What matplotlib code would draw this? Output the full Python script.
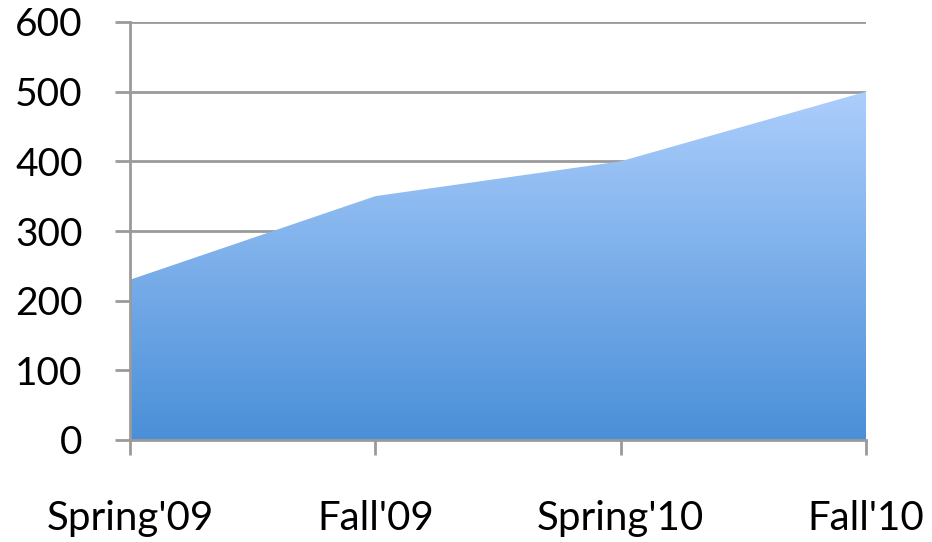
import matplotlib
matplotlib.use("Agg")
import matplotlib.pyplot as plt
import numpy as np
from matplotlib.colors import LinearSegmentedColormap

categories = ["Spring'09", "Fall'09", "Spring'10", "Fall'10"]
values = [230, 350, 400, 500]
y_ticks = [0, 100, 200, 300, 400, 500, 600]

plt.rcParams["font.family"] = ["Lato", "DejaVu Sans"]

fig = plt.figure(figsize=(9.32, 5.42), dpi=100)
ax = fig.add_axes([130 / 932, 1 - 440 / 542, 736 / 932, 418 / 542])

x = np.arange(len(categories))
grid_c = "#9a9a9a"

# area with vertical gradient, clipped to the filled polygon
poly = ax.fill_between(x, 0, values, color="none", lw=0)
cmap = LinearSegmentedColormap.from_list("blu", ["#4a8fd8", "#acceFC"])
grad = np.linspace(0, 1, 256).reshape(-1, 1)
img = ax.imshow(grad, cmap=cmap, aspect="auto", origin="lower",
                extent=[x[0], x[-1], 0, max(values)], zorder=1)
img.set_clip_path(poly.get_paths()[0], transform=ax.transData)

ax.set_xlim(x[0], x[-1])
ax.set_ylim(0, 600)
ax.set_yticks(y_ticks)
ax.set_xticks(x)
ax.set_xticklabels(categories)
ax.yaxis.grid(True, color=grid_c, lw=2, zorder=0)
ax.set_axisbelow(True)

for s in ["top", "right"]:
    ax.spines[s].set_visible(False)
for s in ["left", "bottom"]:
    ax.spines[s].set_color(grid_c)
    ax.spines[s].set_linewidth(2)
    ax.spines[s].set_zorder(3)

ax.tick_params(axis="y", length=11, width=2, color=grid_c, pad=23, labelsize=28)
ax.tick_params(axis="x", length=11, width=2, color=grid_c, pad=32, labelsize=29)

fig.savefig("out.png", dpi=100)
